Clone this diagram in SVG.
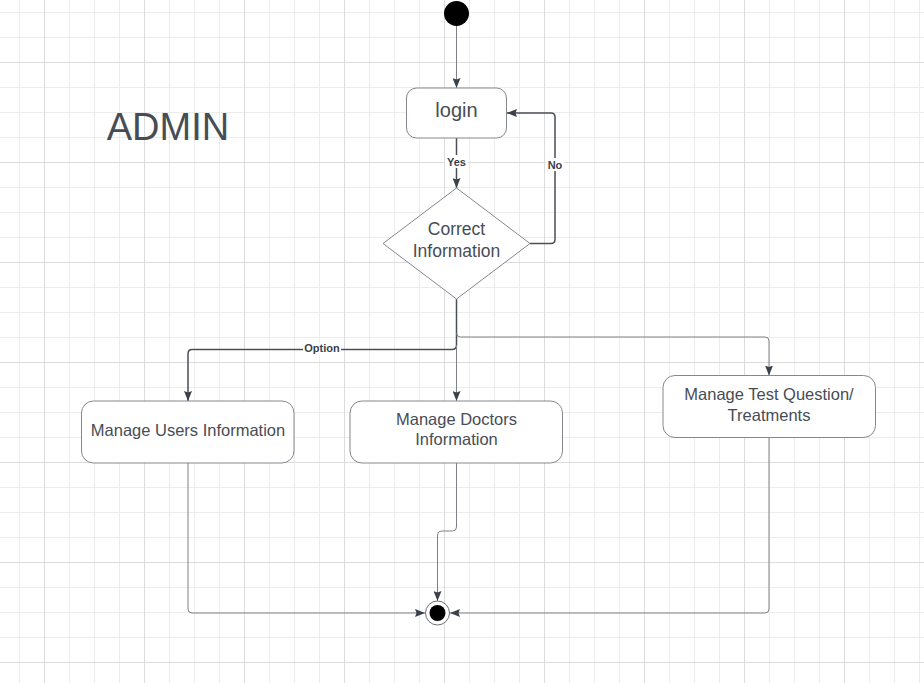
<svg xmlns="http://www.w3.org/2000/svg" width="924" height="683" viewBox="0 0 924 683">
  <defs>
    <pattern id="grid" x="44" y="62" width="100" height="100" patternUnits="userSpaceOnUse">
      <path d="M25.5,0V100M50.5,0V100M75.5,0V100M0,25.5H100M0,50.5H100M0,75.5H100" stroke="#ececec" stroke-width="1" fill="none"/>
      <path d="M0.5,0V100M0,0.5H100" stroke="#dcdcdc" stroke-width="1" fill="none"/>
    </pattern>
    <marker id="arr" viewBox="0 0 10 8" refX="10" refY="4" markerWidth="10" markerHeight="8" markerUnits="userSpaceOnUse" orient="auto">
      <path d="M0,0 L10,4 L0,8 L1.5,4 Z" fill="#3a414a"/>
    </marker>
    <style>
      .node { fill: #ffffff; stroke: #84878c; stroke-width: 1; }
      .txt { font-family: "Liberation Sans", Arial, sans-serif; fill: #474d55; text-anchor: middle; }
      .lbl { font-family: "Liberation Sans", Arial, sans-serif; fill: #3a414a; font-size: 11px; font-weight: bold; text-anchor: middle; }
      .main { fill: none; stroke: #4a4f57; stroke-width: 1.5; }
      .thin { fill: none; stroke: #7d8187; stroke-width: 1; }
    </style>
  </defs>
  <rect width="924" height="683" fill="#ffffff"/>
  <rect width="924" height="683" fill="url(#grid)"/>

  <text class="txt" x="168" y="139.5" font-size="38">ADMIN</text>

  <g id="connectors">
    <path class="thin" d="M456.5,26 L456.5,88" marker-end="url(#arr)"/>
    <path class="main" d="M456.5,138 L456.5,188" marker-end="url(#arr)"/>
    <path class="main" d="M530,243.5 L551,243.5 Q555,243.5 555,239.5 L555,117 Q555,113 551,113 L507,113" marker-end="url(#arr)"/>
    <path class="main" d="M456.5,299 L456.5,345 Q456.5,349.5 452,349.5 L192,349.5 Q188,349.5 188,354 L188,401" marker-end="url(#arr)"/>
    <path class="thin" d="M456.5,345 L456.5,401" marker-end="url(#arr)"/>
    <path class="thin" d="M456.5,333 Q456.5,337 460.5,337 L765,337 Q769,337 769,341 L769,375.5" marker-end="url(#arr)"/>
    <path class="thin" d="M188,463 L188,609 Q188,613 192,613 L425,613" marker-end="url(#arr)"/>
    <path class="thin" d="M456.5,463 L456.5,527 Q456.5,531 452.5,531 L441.5,531 Q437.5,531 437.5,535 L437.5,601" marker-end="url(#arr)"/>
    <path class="thin" d="M769,438 L769,609 Q769,613 765,613 L450,613" marker-end="url(#arr)"/>
    <rect x="445" y="155" width="23" height="13" fill="#ffffff"/>
    <text class="lbl" x="456.5" y="165.5">Yes</text>
    <rect x="546" y="158" width="18" height="13" fill="#ffffff"/>
    <text class="lbl" x="555" y="169">No</text>
    <rect x="303" y="343" width="38" height="12" fill="#ffffff"/>
    <text class="lbl" x="322" y="352">Option</text>
  </g>

  <g id="start">
    <circle cx="456.5" cy="13.5" r="12.5" fill="#000000"/>
  </g>

  <g id="login">
    <rect class="node" x="406.5" y="88" width="100" height="50" rx="10"/>
    <text class="txt" x="456.5" y="117" font-size="20">login</text>
  </g>

  <g id="decision">
    <polygon class="node" points="456.5,188 530,243.5 456.5,299 383,243.5"/>
    <text class="txt" x="456.5" y="235" font-size="17.5">Correct</text>
    <text class="txt" x="456.5" y="257" font-size="17.5">Information</text>
  </g>

  <g id="users">
    <rect class="node" x="81.5" y="401" width="212.5" height="62" rx="12"/>
    <text class="txt" x="188" y="435.5" font-size="16.5">Manage Users Information</text>
  </g>

  <g id="doctors">
    <rect class="node" x="350" y="401" width="212.5" height="62" rx="12"/>
    <text class="txt" x="456.5" y="425" font-size="16.5">Manage Doctors</text>
    <text class="txt" x="456.5" y="445" font-size="16.5">Information</text>
  </g>

  <g id="tests">
    <rect class="node" x="663" y="375.5" width="212.5" height="62" rx="12"/>
    <text class="txt" x="769" y="400" font-size="16.5">Manage Test Question/</text>
    <text class="txt" x="769" y="420.5" font-size="16.5">Treatments</text>
  </g>

  <g id="end">
    <circle cx="437.5" cy="613" r="12" fill="#ffffff" stroke="#6a6e74" stroke-width="1"/>
    <circle cx="437.5" cy="613" r="8" fill="#000000"/>
  </g>
</svg>
